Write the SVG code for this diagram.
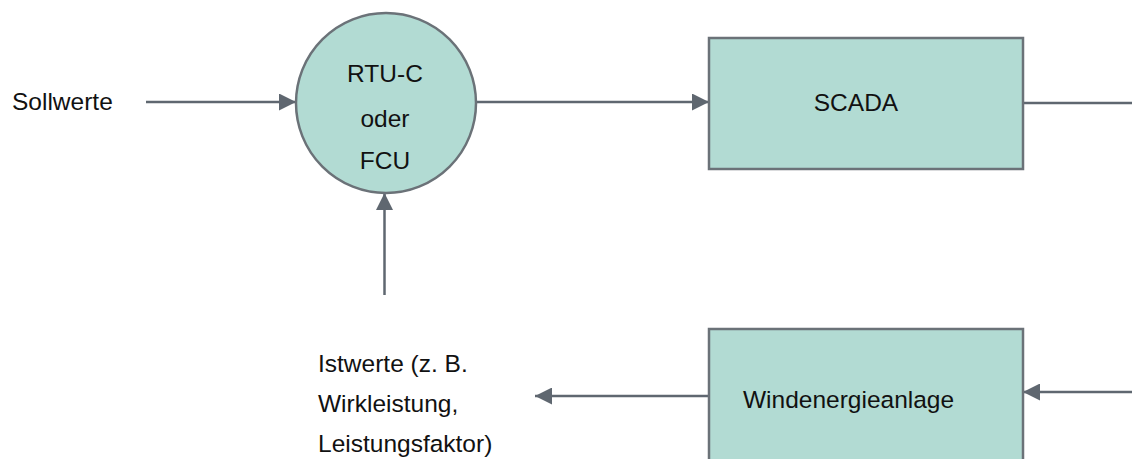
<svg xmlns="http://www.w3.org/2000/svg" width="1132" height="459" viewBox="0 0 1132 459">
<style>
.node{fill:#b2dbd3;stroke:#6b7278;stroke-width:2.5}
.edge{fill:none;stroke:#5f6770;stroke-width:2.5}
text{font-family:"Liberation Sans",Arial,sans-serif;font-size:24.5px;fill:#111}
</style>
<defs>
<marker id="ah" viewBox="0 0 10 10" refX="10" refY="5" markerWidth="17" markerHeight="17" markerUnits="userSpaceOnUse" orient="auto">
<path d="M0,0 L10,5 L0,10 z" fill="#5f6770"/>
</marker>
</defs>
<rect width="1132" height="459" fill="#fff"/>
<g id="connectors">
<line class="edge" x1="146" y1="102" x2="296" y2="102" marker-end="url(#ah)"/>
<line class="edge" x1="476" y1="102" x2="709" y2="102" marker-end="url(#ah)"/>
<line class="edge" x1="1023" y1="103" x2="1132" y2="103"/>
<line class="edge" x1="384.5" y1="295" x2="384.5" y2="193" marker-end="url(#ah)"/>
<line class="edge" x1="1132" y1="392" x2="1023" y2="392" marker-end="url(#ah)"/>
<line class="edge" x1="709" y1="396" x2="535" y2="396" marker-end="url(#ah)"/>
</g>
<g id="sollwerte"><text x="12" y="110">Sollwerte</text></g>
<g id="rtu">
<circle class="node" cx="386" cy="103" r="90"/>
<text x="385" y="82" text-anchor="middle">RTU-C</text>
<text x="385" y="127" text-anchor="middle">oder</text>
<text x="385" y="169" text-anchor="middle">FCU</text>
</g>
<g id="scada">
<rect class="node" x="709" y="38" width="314" height="131" stroke-width="2"/>
<text x="856" y="111" text-anchor="middle">SCADA</text>
</g>
<g id="wea">
<rect class="node" x="709" y="329" width="314" height="140" stroke-width="2"/>
<text x="743" y="408">Windenergieanlage</text>
</g>
<g id="istwerte">
<text x="318" y="372">Istwerte (z. B.</text>
<text x="318" y="412">Wirkleistung,</text>
<text x="318" y="452">Leistungsfaktor)</text>
</g>
</svg>
